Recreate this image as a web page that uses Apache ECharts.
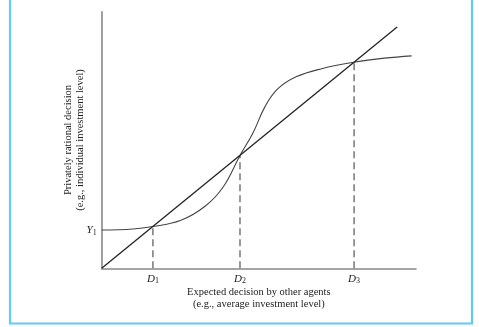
<!DOCTYPE html>
<html>
<head>
<meta charset="utf-8">
<script src="https://cdn.jsdelivr.net/npm/echarts@6/dist/echarts.min.js"></script>
<style>
  html, body { margin: 0; padding: 0; background: #fff; }
  #chart { width: 479px; height: 327px; }
</style>
</head>
<body>
<div id="chart"></div>
<script>
// Equilibrium points where the response curve crosses the 45° line
const eqX = [16.3, 44, 80.3];
const eqLabels = ['1', '2', '3'];
// Intercept of the response curve on the vertical axis
const yTicks = [14.9];
const yLabels = ['1'];

// Private response curve (S-shaped)
const curveX = [0, 10, 16.3, 25, 33, 38.7, 44, 48, 52, 56, 62, 70, 80.3, 90, 98.6];
const curveY = [14.9, 15.3, 16.3, 18.6, 24.3, 31.8, 44, 52.4, 63.1, 69.9, 74.7, 77.8, 80.3, 81.9, 82.8];

// 45° line: own decision equals expected decision
const diagX = [0, 94];
const diagY = [0, 94];

const serif = '"Liberation Serif", "DejaVu Serif", serif';

const curveData = curveX.map((x, i) => [x, curveY[i]]);
const diagData = diagX.map((x, i) => [x, diagY[i]]);

const dashSeries = eqX.map(x => ({
  type: 'line',
  data: [[x, 0], [x, x]],
  symbol: 'none',
  silent: true,
  lineStyle: { color: '#555', width: 1.2, type: [7, 4] },
  z: 1
}));

const chart = echarts.init(document.getElementById('chart'), null, { renderer: 'canvas' });
chart.setOption({
  animation: false,
  backgroundColor: '#fff',
  grid: { left: 101.7, right: 63, top: 11.7, bottom: 58.7, containLabel: false },
  graphic: [{
    type: 'rect',
    shape: { x: 10, y: -10, width: 462, height: 333.5 },
    style: { fill: 'none', stroke: '#62cbf3', lineWidth: 2.2 },
    silent: true
  }],
  xAxis: {
    type: 'value', min: 0, max: 100,
    name: 'Expected decision by other agents\n(e.g., average investment level)',
    nameLocation: 'middle', nameGap: 18, nameMoveOverlap: false,
    nameTextStyle: { fontFamily: serif, fontSize: 10.5, color: '#222', lineHeight: 12 },
    axisLine: { show: true, lineStyle: { color: '#888', width: 1.6 } },
    axisTick: { show: false },
    splitLine: { show: false },
    axisLabel: {
      customValues: eqX,
      margin: 4,
      formatter: v => '{i|D}{s|' + eqLabels[eqX.indexOf(v)] + '}',
      rich: {
        i: { fontFamily: serif, fontStyle: 'italic', fontSize: 11, color: '#222' },
        s: { fontFamily: serif, fontSize: 8, color: '#222', padding: [5, 0, 0, 0] }
      }
    }
  },
  yAxis: {
    type: 'value', min: 0, max: 100,
    name: 'Privately rational decision\n(e.g., individual investment level)',
    nameLocation: 'middle', nameGap: 15, nameRotate: 90, nameMoveOverlap: false,
    nameTextStyle: { fontFamily: serif, fontSize: 10.5, color: '#222', lineHeight: 12 },
    axisLine: { show: true, lineStyle: { color: '#888', width: 1.6 } },
    axisTick: { show: false },
    splitLine: { show: false },
    axisLabel: {
      customValues: yTicks,
      margin: 5,
      formatter: v => '{i|Y}{s|' + yLabels[yTicks.indexOf(v)] + '}',
      rich: {
        i: { fontFamily: serif, fontStyle: 'italic', fontSize: 11, color: '#222' },
        s: { fontFamily: serif, fontSize: 8, color: '#222', padding: [5, 0, 0, 0] }
      }
    }
  },
  series: [
    ...dashSeries,
    {
      type: 'line', data: diagData, symbol: 'none', silent: true,
      lineStyle: { color: '#222', width: 1.3 }, z: 3
    },
    {
      type: 'line', data: curveData, symbol: 'none', silent: true,
      smooth: 0.4,
      lineStyle: { color: '#444', width: 1.1 }, z: 2
    }
  ]
});
</script>
</body>
</html>
